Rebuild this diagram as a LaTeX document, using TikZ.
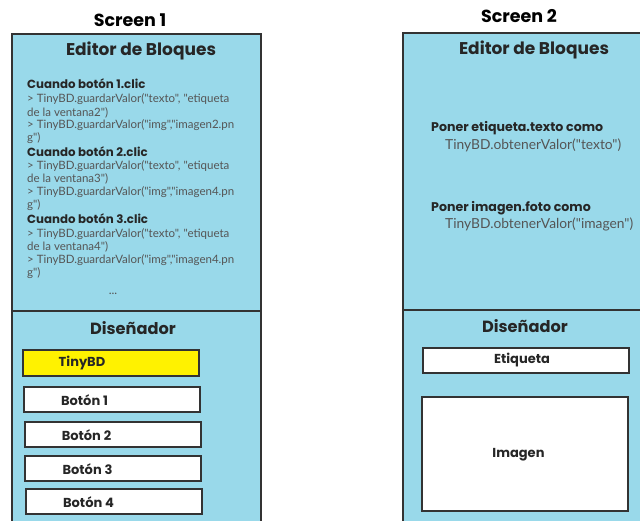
\documentclass[tikz,border=0pt]{standalone}
\usepackage{fontspec}
\setmainfont{Poppins}
\newfontfamily\codefont{Lato}
\definecolor{panel}{HTML}{99D9EA}
\definecolor{edge}{HTML}{333333}
\definecolor{codegray}{HTML}{555555}
\definecolor{tyellow}{HTML}{FFF200}
\tikzset{
  panelbox/.style={draw=edge,line width=1.3pt,fill=panel},
  widget/.style={draw=edge,line width=1.3pt,fill=white,rectangle},
  screentitle/.style={font=\fontsize{17.5}{20}\selectfont\bfseries,text=black},
  sectitle/.style={font=\fontsize{17}{20}\selectfont\bfseries,text=black!85},
  codehead/.style={anchor=west,inner sep=0pt,font=\fontsize{11.8}{13}\selectfont\bfseries,text=black!85},
  codeline/.style={anchor=west,inner sep=0pt,font=\codefont\fontsize{11.5}{12}\selectfont,text=codegray},
  wlabel/.style={font=\fontsize{13}{14}\selectfont\bfseries,text=black!85,inner sep=0pt}
}
\begin{document}
\begin{tikzpicture}[x=1pt,y=-1pt]
\clip (0,0) rectangle (640,520);
\fill[white] (0,0) rectangle (640,520);
% Screen 1
\node[screentitle] (s1title) at (130,20) {Screen 1};
\draw[panelbox] (12,34) rectangle (261,530);
\draw[edge,line width=1.3pt] (12,311) -- (261,311);
\node[sectitle] (ed1) at (141,51) {Editor de Bloques};
\node[codehead] (c1) at (27,84) {Cuando botón 1.clic};
\node[codeline] (l1a) at (27,99.5) {> TinyBD.guardarValor("texto", "etiqueta};
\node[codeline] (l1b) at (27,112.5) {de la ventana2")};
\node[codeline] (l1c) at (27,125.5) {> TinyBD.guardarValor("img","imagen2.pn};
\node[codeline] (l1d) at (27,138) {g")};
\node[codehead] (c2) at (27,151.5) {Cuando botón 2.clic};
\node[codeline] (l2a) at (27,166) {> TinyBD.guardarValor("texto", "etiqueta};
\node[codeline] (l2b) at (27,179) {de la ventana3")};
\node[codeline] (l2c) at (27,192.5) {> TinyBD.guardarValor("img","imagen4.pn};
\node[codeline] (l2d) at (27,205.5) {g")};
\node[codehead] (c3) at (27,219) {Cuando botón 3.clic};
\node[codeline] (l3a) at (27,234) {> TinyBD.guardarValor("texto", "etiqueta};
\node[codeline] (l3b) at (27,247) {de la ventana4")};
\node[codeline] (l3c) at (27,260.5) {> TinyBD.guardarValor("img","imagen4.pn};
\node[codeline] (l3d) at (27,273.5) {g")};
\node[codeline,anchor=center,font=\codefont\fontsize{12}{12}\selectfont] (dots) at (113,294) {...};
\node[sectitle,font=\fontsize{16.2}{20}\selectfont\bfseries] (dis1) at (133,328) {Diseñador};
\draw[widget,fill=tyellow] (23,350) rectangle (199,376);
\node[wlabel] (tinybd) at (82,363) {TinyBD};
\draw[widget] (24,387) rectangle (200,412);
\node[wlabel] (b1) at (84.5,400) {Botón 1};
\draw[widget] (25,422) rectangle (201,447);
\node[wlabel] (b2) at (86.5,435) {Botón 2};
\draw[widget] (25,456) rectangle (201,481);
\node[wlabel] (b3) at (87.5,469) {Botón 3};
\draw[widget] (26,489) rectangle (202,514);
\node[wlabel] (b4) at (88.5,502) {Botón 4};
% Screen 2
\node[screentitle] (s2title) at (519,16) {Screen 2};
\draw[panelbox] (403,33) rectangle (660,530);
\draw[edge,line width=1.3pt] (403,310) -- (660,310);
\node[sectitle] (ed2) at (534,50) {Editor de Bloques};
\node[codehead,font=\fontsize{12.6}{14}\selectfont\bfseries] (p1) at (431,128) {Poner etiqueta.texto como};
\node[codeline,font=\codefont\fontsize{13.8}{14}\selectfont] (p1b) at (445,145) {TinyBD.obtenerValor("texto")};
\node[codehead,font=\fontsize{12.6}{14}\selectfont\bfseries] (p2) at (431,208) {Poner imagen.foto como};
\node[codeline,font=\codefont\fontsize{13.8}{14}\selectfont] (p2b) at (445,224) {TinyBD.obtenerValor("imagen")};
\node[sectitle,font=\fontsize{16.2}{20}\selectfont\bfseries] (dis2) at (525,326) {Diseñador};
\draw[widget] (423,348) rectangle (629,373);
\node[wlabel] (etq) at (522,360) {Etiqueta};
\draw[widget] (422,397) rectangle (628,511);
\node[wlabel] (img) at (518.5,455) {Imagen};
\end{tikzpicture}
\end{document}
